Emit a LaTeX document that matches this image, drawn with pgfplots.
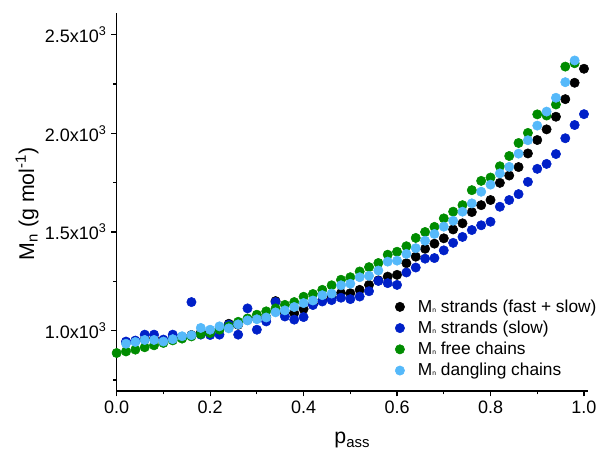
\documentclass[border=0pt]{standalone}
\usepackage{pgfplots}
\pgfplotsset{compat=1.18}
\usepackage{fontspec}
\setmainfont{Liberation Sans}

\definecolor{cblue}{RGB}{0,32,200}
\definecolor{cgreen}{RGB}{0,140,0}
\definecolor{clight}{RGB}{85,185,250}

\newcommand{\Mn}{M\raisebox{0pt}{\fontsize{5}{5}\selectfont n}}

\begin{document}
\begin{tikzpicture}
\begin{axis}[
    name=ax, at={(0,0)}, anchor=south west,
    scale only axis,
    width=353.5pt, height=283.5pt,
    xmin=0, xmax=1.0086,
    ymin=694.5, ymax=2609.5,
    axis x line=bottom, axis y line=left,
    axis line style={-, line width=0.9pt},
    every tick/.style={line width=0.9pt, black},
    tick align=outside,
    major tick length=4pt, minor tick length=2.5pt,
    xtick={0,0.2,0.4,0.6,0.8,1.0},
    xticklabels={0.0,0.2,0.4,0.6,0.8,1.0},
    minor xtick={0.1,0.3,0.5,0.7,0.9},
    ytick={1000,1500,2000,2500},
    yticklabels={1.0x10\textsuperscript{3},1.5x10\textsuperscript{3},2.0x10\textsuperscript{3},2.5x10\textsuperscript{3}},
    minor ytick={750,1250,1750,2250},
    tick label style={font=\fontsize{13.5}{16}\selectfont},
    xlabel={p\textsubscript{ass}},
    ylabel={M\textsubscript{n} (g mol\textsuperscript{-1})},
    label style={font=\fontsize{16}{19}\selectfont},
    xlabel style={at={(axis description cs:0.5,-0.13)}, anchor=center},
    ylabel style={at={(axis description cs:-0.19,0.495)}, anchor=center},
    legend cell align=left,
    legend style={draw=none, fill=none, at={(0.582,0.02)}, anchor=south west,
        font=\fontsize{13}{15}\selectfont, row sep=1pt,
        /tikz/every odd column/.append style={column sep=8pt}},
    clip=false,
]
\addplot[only marks, mark=*, mark size=3.5pt, color=black, mark options={draw=none, fill=black}]
coordinates {
(0.02,940) (0.04,948) (0.06,955) (0.08,960) (0.10,950) (0.12,962) (0.14,968)
(0.16,978) (0.18,990) (0.20,995) (0.22,1010) (0.24,1035) (0.26,1030) (0.28,1055)
(0.30,1062) (0.32,1068) (0.34,1150) (0.36,1090) (0.38,1089) (0.40,1110) (0.42,1135)
(0.44,1155) (0.46,1172) (0.48,1190) (0.50,1190) (0.52,1207) (0.54,1232) (0.56,1255)
(0.58,1274) (0.60,1283) (0.62,1342) (0.64,1375) (0.66,1415) (0.68,1441) (0.70,1468)
(0.72,1513) (0.74,1544) (0.76,1601) (0.78,1636) (0.80,1662) (0.82,1749) (0.84,1786)
(0.86,1829) (0.88,1898) (0.90,1966) (0.92,2020) (0.94,2084) (0.96,2173) (0.98,2256)
(1.00,2327)
};
\addlegendentry{\Mn\ strands (fast + slow)}
\addplot[only marks, mark=*, mark size=3.5pt, color=cblue, mark options={draw=none, fill=cblue}]
coordinates {
(0.02,945) (0.04,950) (0.06,980) (0.08,980) (0.10,955) (0.12,980) (0.14,965)
(0.16,1145) (0.18,980) (0.20,978) (0.22,980) (0.24,1030) (0.26,980) (0.28,1113)
(0.30,1005) (0.32,1047) (0.34,1145) (0.36,1072) (0.38,1056) (0.40,1069) (0.42,1130)
(0.44,1148) (0.46,1155) (0.48,1167) (0.50,1160) (0.52,1173) (0.54,1200) (0.56,1252)
(0.58,1241) (0.60,1232) (0.62,1295) (0.64,1320) (0.66,1365) (0.68,1368) (0.70,1407)
(0.72,1445) (0.74,1475) (0.76,1510) (0.78,1534) (0.80,1552) (0.82,1628) (0.84,1662)
(0.86,1692) (0.88,1754) (0.90,1820) (0.92,1845) (0.94,1895) (0.96,1975) (0.98,2042)
(1.00,2097)
};
\addlegendentry{\Mn\ strands (slow)}
\addplot[only marks, mark=*, mark size=3.5pt, color=cgreen, mark options={draw=none, fill=cgreen}]
coordinates {
(0.00,887) (0.02,895) (0.04,904) (0.06,916) (0.08,926) (0.10,938) (0.12,951)
(0.14,960) (0.16,971) (0.18,983) (0.20,988) (0.22,1005) (0.24,1022) (0.26,1045)
(0.28,1062) (0.30,1081) (0.32,1098) (0.34,1113) (0.36,1131) (0.38,1145) (0.40,1172)
(0.42,1186) (0.44,1207) (0.46,1230) (0.48,1258) (0.50,1271) (0.52,1300) (0.54,1322)
(0.56,1343) (0.58,1385) (0.60,1400) (0.62,1428) (0.64,1470) (0.66,1500) (0.68,1526)
(0.70,1569) (0.72,1603) (0.74,1636) (0.76,1712) (0.78,1759) (0.80,1776) (0.82,1833)
(0.84,1885) (0.86,1951) (0.88,2002) (0.90,2096) (0.92,2090) (0.94,2146) (0.96,2338)
(0.98,2355)
};
\addlegendentry{\Mn\ free chains}
\addplot[only marks, mark=*, mark size=3.5pt, color=clight, mark options={draw=none, fill=clight}]
coordinates {
(0.02,934) (0.04,943) (0.06,953) (0.08,953) (0.10,945) (0.12,957) (0.14,972)
(0.16,977) (0.18,1014) (0.20,1005) (0.22,1022) (0.24,1012) (0.26,1032) (0.28,1052)
(0.30,1058) (0.32,1067) (0.34,1093) (0.36,1103) (0.38,1120) (0.40,1140) (0.42,1153)
(0.44,1180) (0.46,1188) (0.48,1230) (0.50,1238) (0.52,1271) (0.54,1278) (0.56,1305)
(0.58,1350) (0.60,1355) (0.62,1389) (0.64,1418) (0.66,1456) (0.68,1490) (0.70,1527)
(0.72,1557) (0.74,1603) (0.76,1645) (0.78,1704) (0.80,1740) (0.82,1797) (0.84,1830)
(0.86,1897) (0.88,1965) (0.90,2039) (0.92,2110) (0.94,2180) (0.96,2259) (0.98,2369)
};
\addlegendentry{\Mn\ dangling chains}
\end{axis}
\pgfresetboundingbox
\path[use as bounding box] (-87.5pt,-49.5pt) rectangle (362.5pt,293.25pt);
\end{tikzpicture}
\end{document}
